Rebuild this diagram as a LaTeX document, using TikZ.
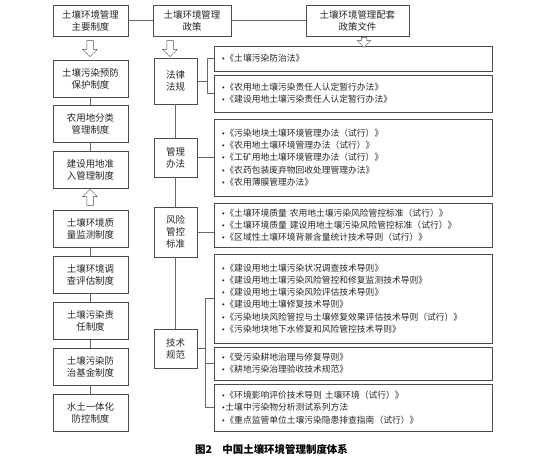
\documentclass[tikz,border=0pt]{standalone}
\usepackage{fontspec}
\newfontfamily\cjk{Noto Sans CJK SC}
\newfontfamily\symfont{DejaVu Sans}
\usetikzlibrary{positioning}
\usetikzlibrary{shapes.arrows}
\newcommand{\bul}{{\symfont\fontsize{7}{7}\selectfont •}}

\begin{document}
\begin{tikzpicture}[x=1bp,y=-1bp,
    main node/.style={rectangle,draw=black!70,line width=0.7pt,text=black!85,font=\cjk\fontsize{9.5}{12}\selectfont,align=center,minimum width=75bp,minimum height=37bp,inner sep=1pt},
    mid node/.style={main node,minimum width=43bp},
    doc node/.style={rectangle,draw=black!70,line width=0.7pt,text=black!85,font=\cjk\fontsize{8.8}{12.3}\selectfont,align=left,anchor=west,text width=264bp,inner xsep=7bp,inner ysep=2pt},
    hollow node/.style={single arrow,draw=black!70,fill=white,line width=0.5pt,minimum height=16bp,minimum width=14bp,single arrow head extend=4bp,inner sep=3bp},
    link/.style={-,draw=black!60,line width=0.6pt}]
  \useasboundingbox (0,0) rectangle (538,459);

  % main systems
  \node[main node,minimum height=31bp] (main) at (90.5,20.5) {土壤环境管理\\主要制度};
  \node[main node] (prev) at (90.5,78.5) {土壤污染预防\\保护制度};
  \node[main node] (agri) at (90.5,123.5) {农用地分类\\管理制度};
  \node[main node] (entry) at (90.5,170) {建设用地准\\入管理制度};
  \node[main node] (monit) at (90.5,229) {土壤环境质\\量监测制度};
  \node[main node] (survey) at (90.5,274.5) {土壤环境调\\查评估制度};
  \node[main node] (resp) at (90.5,321) {土壤污染责\\任制度};
  \node[main node] (fund) at (90.5,366.5) {土壤污染防\\治基金制度};
  \node[main node] (water) at (90.5,412.5) {水土一体化\\防控制度};

  % policies
  \node[main node,minimum width=78bp,minimum height=31bp] (policy) at (192,20.5) {土壤环境管理\\政策};
  \node[main node,minimum width=103bp,minimum height=31bp] (files) at (357.5,20.5) {土壤环境管理配套\\政策文件};
  \node[mid node,minimum height=46bp] (law) at (175.5,81) {法律\\法规};
  \node[mid node,minimum height=39bp] (rule) at (175.5,157.5) {管理\\办法};
  \node[mid node,minimum height=50bp] (std) at (175.5,232) {风险\\管控\\标准};
  \node[mid node,minimum height=39bp] (tech) at (175.5,348.5) {技术\\规范};

  % documents
  \node[doc node,minimum height=25bp] (lawA) at (214,58.5) {\bul《土壤污染防治法》};
  \node[doc node,minimum height=37bp] (lawB) at (214,93.5) {\bul《农用地土壤污染责任人认定暂行办法》\\\bul《建设用地土壤污染责任人认定暂行办法》};
  \node[doc node,minimum height=77bp] (ruleC) at (214,157.5) {\bul《污染地块土壤环境管理办法（试行）》\\\bul《农用地土壤环境管理办法（试行）》\\\bul《工矿用地土壤环境管理办法（试行）》\\\bul《农药包装废弃物回收处理管理办法》\\\bul《农用薄膜管理办法》};
  \node[doc node,minimum height=44bp] (stdD) at (214,225) {\bul《土壤环境质量\ 农用地土壤污染风险管控标准（试行）》\\\bul《土壤环境质量\ 建设用地土壤污染风险管控标准（试行）》\\\bul《区域性土壤环境背景含量统计技术导则（试行）》};
  \node[doc node,minimum height=89bp] (techE) at (214,298.5) {\bul《建设用地土壤污染状况调查技术导则》\\\bul《建设用地土壤污染风险管控和修复监测技术导则》\\\bul《建设用地土壤污染风险评估技术导则》\\\bul《建设用地土壤修复技术导则》\\\bul《污染地块风险管控与土壤修复效果评估技术导则（试行）》\\\bul《污染地块地下水修复和风险管控技术导则》};
  \node[doc node,minimum height=33bp] (techF) at (214,363.5) {\bul《受污染耕地治理与修复导则》\\\bul《耕地污染治理验收技术规范》};
  \node[doc node,minimum height=47bp] (techG) at (214,407.5) {\bul《环境影响评价技术导则\ 土壤环境（试行）》\\\bul 土壤中污染物分析测试系列方法\\\bul《重点监管单位土壤污染隐患排查指南（试行）》};

  % hollow arrows
  \node[hollow node,rotate=-90] (a1) at (90,47) {};
  \node[hollow node,rotate=90] (a2) at (90,199) {};
  \node[hollow node,rotate=-90] (a3) at (170,47) {};
  \node[hollow node,rotate=-90,minimum height=10bp,minimum width=12bp,inner sep=2.5bp] (a4) at (364,41) {};

  % connectors
  \path[link] (main) edge (policy) (policy) edge (files);
  \path[link] (prev) edge (agri) (agri) edge (entry);
  \path[link] (monit) edge (survey) (survey) edge (resp) (resp) edge (fund) (fund) edge (water);
  \path[link] (law) edge (rule) (rule) edge (std) (std) edge (tech);
  \draw[link] (law.east) -- ++(10,0) coordinate (lawj);
  \draw[link] (lawj) |- (lawA.west) (lawj) |- (lawB.west);
  \path[link] (rule) edge (ruleC);
  \draw[link] (std.east) -- (std.east -| stdD.west);
  \draw[link] (tech.east) -- ++(8,0) coordinate (techj);
  \draw[link] (techj) |- (techE.west) (techj) |- (techF.west) (techj) |- (techG.west);

  \node[font=\cjk\bfseries\fontsize{10.5}{12}\selectfont] (cap) at (271.5,449) {图2\quad 中国土壤环境管理制度体系};
\end{tikzpicture}
\end{document}
